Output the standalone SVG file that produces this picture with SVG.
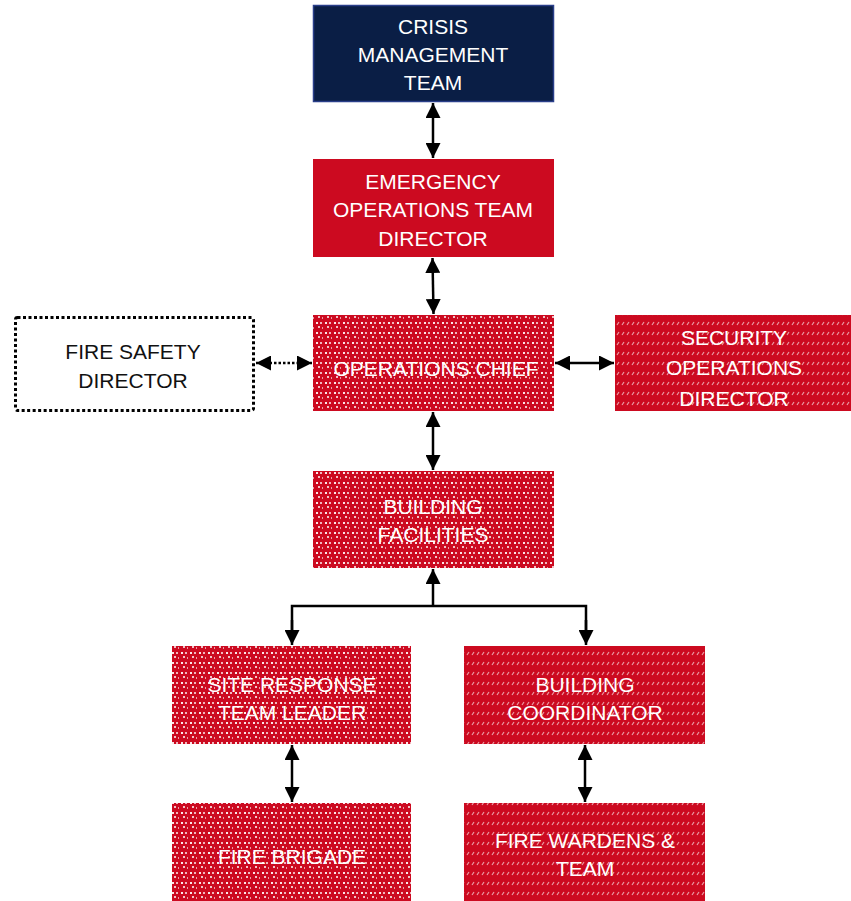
<svg xmlns="http://www.w3.org/2000/svg" width="851" height="901" viewBox="0 0 851 901">
<defs>
<style>
.t{font-family:"Liberation Sans",Arial,sans-serif;font-size:21px;fill:#fff;text-anchor:middle;dominant-baseline:central}
.tb{fill:#111}
.red{fill:#cc0a20}
.ln{stroke:#000;stroke-width:2.5;fill:none}
</style>
<pattern id="dots" width="9" height="10" patternUnits="userSpaceOnUse">
<rect width="9" height="10" fill="#cc0a20"/>
<rect x="1" y="2" width="2" height="2" fill="#fff" opacity="0.9"/>
<rect x="5" y="2" width="2" height="2" fill="#fff" opacity="0.7"/>
<rect x="3" y="6" width="2" height="2" fill="#fff" opacity="0.75"/>
<rect x="7" y="7" width="1" height="2" fill="#fff" opacity="0.6"/>
</pattern>
<pattern id="dash" width="10" height="10" patternUnits="userSpaceOnUse">
<rect width="10" height="10" fill="#cc0a20"/>
<path d="M2 5 L4 2 M7 5 L9 2" stroke="#fff" stroke-width="1.2" opacity="0.6"/>
</pattern>
<marker id="ah" viewBox="0 0 10 10" refX="10" refY="5" markerWidth="6" markerHeight="6" orient="auto-start-reverse" markerUnits="strokeWidth">
<path d="M0 0 L10 5 L0 10 Z" fill="#000"/>
</marker>
</defs>
<rect width="851" height="901" fill="#fff"/>

<g id="connectors">
<line class="ln" x1="433" y1="103" x2="433" y2="158" marker-start="url(#ah)" marker-end="url(#ah)"/>
<line class="ln" x1="432.5" y1="258" x2="433.5" y2="314" marker-start="url(#ah)" marker-end="url(#ah)"/>
<line class="ln" x1="433" y1="412" x2="433" y2="470" marker-start="url(#ah)" marker-end="url(#ah)"/>
<line class="ln" x1="256" y1="363" x2="312" y2="363" stroke-dasharray="2.5 2" marker-start="url(#ah)" marker-end="url(#ah)"/>
<line class="ln" x1="555" y1="363" x2="614" y2="363" marker-start="url(#ah)" marker-end="url(#ah)"/>
<line class="ln" x1="433" y1="606" x2="433" y2="569" marker-end="url(#ah)"/>
<polyline class="ln" points="292,630 292,606 586,606 586,630"/>
<line class="ln" x1="292" y1="620" x2="292" y2="645" marker-end="url(#ah)"/>
<line class="ln" x1="586" y1="620" x2="586" y2="645" marker-end="url(#ah)"/>
<line class="ln" x1="292" y1="745" x2="292" y2="802" marker-start="url(#ah)" marker-end="url(#ah)"/>
<line class="ln" x1="585" y1="745" x2="585" y2="802" marker-start="url(#ah)" marker-end="url(#ah)"/>
</g>

<g id="crisis">
<rect x="313.5" y="5.5" width="240" height="96" fill="#0a1e45" stroke="#2a3f8a" stroke-width="1.5"/>
<text class="t" x="433" y="26">CRISIS</text>
<text class="t" x="433" y="54">MANAGEMENT</text>
<text class="t" x="433" y="82">TEAM</text>
</g>

<g id="emergency">
<rect class="red" x="313" y="159" width="241" height="98"/>
<text class="t" x="433" y="181">EMERGENCY</text>
<text class="t" x="433" y="209">OPERATIONS TEAM</text>
<text class="t" x="433" y="238">DIRECTOR</text>
</g>

<g id="fire-safety">
<rect x="15.5" y="317.5" width="238" height="93" fill="#fff" stroke="#000" stroke-width="3" stroke-dasharray="3 2.5" rx="2"/>
<text class="t tb" x="133" y="351">FIRE SAFETY</text>
<text class="t tb" x="133" y="380">DIRECTOR</text>
</g>

<g id="ops-chief">
<rect x="313" y="315" width="241" height="96" fill="url(#dots)"/>
<text class="t" x="436" y="368">OPERATIONS CHIEF</text>
</g>

<g id="security">
<rect x="615" y="315" width="236" height="96" fill="url(#dash)"/>
<text class="t" x="734" y="337">SECURITY</text>
<text class="t" x="734" y="367">OPERATIONS</text>
<text class="t" x="734" y="398">DIRECTOR</text>
</g>

<g id="building-facilities">
<rect x="313" y="471" width="241" height="97" fill="url(#dots)"/>
<text class="t" x="433" y="506">BUILDING</text>
<text class="t" x="433" y="534">FACILITIES</text>
</g>

<g id="site-response">
<rect x="172" y="646" width="239" height="98" fill="url(#dots)"/>
<text class="t" x="292" y="684">SITE RESPONSE</text>
<text class="t" x="292" y="712">TEAM LEADER</text>
</g>

<g id="building-coordinator">
<rect x="464" y="646" width="241" height="98" fill="url(#dash)"/>
<text class="t" x="585" y="684">BUILDING</text>
<text class="t" x="585" y="712">COORDINATOR</text>
</g>

<g id="fire-brigade">
<rect x="172" y="803" width="239" height="98" fill="url(#dots)"/>
<text class="t" x="292" y="856">FIRE BRIGADE</text>
</g>

<g id="fire-wardens">
<rect x="464" y="803" width="241" height="98" fill="url(#dash)"/>
<text class="t" x="585" y="840">FIRE WARDENS &amp;</text>
<text class="t" x="585" y="868">TEAM</text>
</g>
</svg>
